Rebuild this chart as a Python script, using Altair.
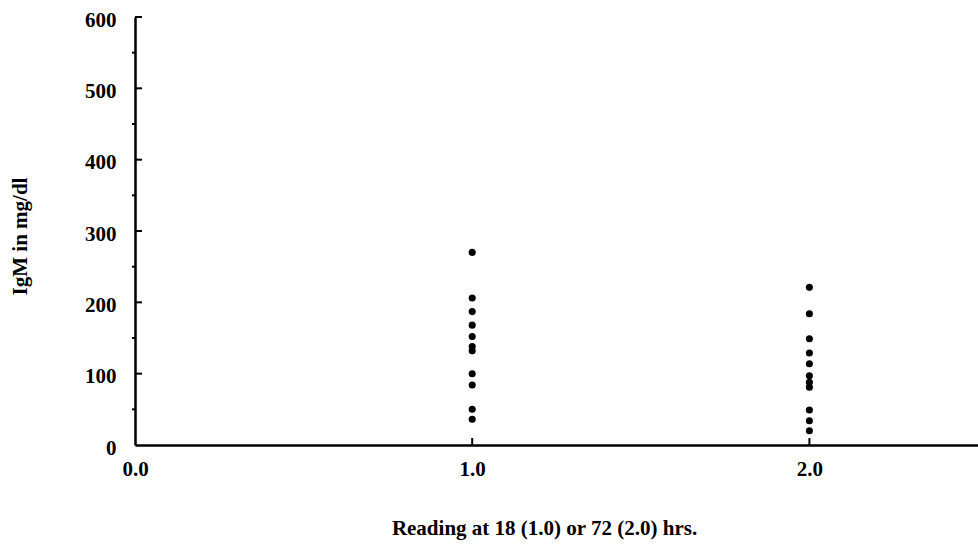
import altair as alt
import pandas as pd

# IgM readings (mg/dl) at the two time points
reading_1 = [270, 206, 187, 168, 152, 138, 132, 100, 84, 50, 36]
reading_2 = [221, 184, 149, 129, 114, 97, 88, 81, 49, 34, 20]

y_major = [100, 200, 300, 400, 500, 600]
y_minor = [50, 150, 250, 350, 450, 550]
x_major = [1.0, 2.0]

points = pd.DataFrame(
    {"t": [1.0] * len(reading_1) + [2.0] * len(reading_2),
     "igm": reading_1 + reading_2}
)

FONT = "Liberation Serif"
xs = alt.Scale(domain=[0, 2.5], nice=False)
ys = alt.Scale(domain=[0, 600], nice=False)

x_axis = alt.Axis(values=[0.0, 1.0, 2.0], format=".1f", ticks=False,
                  grid=False, domainWidth=2.5, domainColor="black",
                  labelFont=FONT, labelFontSize=21, labelFontWeight="bold",
                  labelColor="black", labelPadding=13, labelFlush=False,
                  title="Reading at 18 (1.0) or 72 (2.0) hrs.",
                  titleFont=FONT, titleFontSize=21, titleFontWeight="bold",
                  titleColor="black", titleX=409, titleY=83,
                  titleAlign="center", titleBaseline="middle")
y_axis = alt.Axis(values=[0, 100, 200, 300, 400, 500, 600], ticks=False,
                  grid=False, domainWidth=2.5, domainColor="black",
                  labelFont=FONT, labelFontSize=21, labelFontWeight="bold",
                  labelColor="black", labelPadding=19, labelFlush=False,
                  labelOffset=3,
                  title="IgM in mg/dl",
                  titleFont=FONT, titleFontSize=21, titleFontWeight="bold",
                  titleColor="black", titleX=-115, titleY=219,
                  titleAngle=-90, titleAlign="center", titleBaseline="middle")

dots = alt.Chart(points).mark_circle(size=50, color="black", opacity=1).encode(
    x=alt.X("t:Q", scale=xs, axis=x_axis),
    y=alt.Y("igm:Q", scale=ys, axis=y_axis),
)

# inward major ticks on the y axis
ymaj = alt.Chart(pd.DataFrame({"v": y_major})).mark_rule(color="black", strokeWidth=2).encode(
    y=alt.Y("v:Q", scale=ys, axis=y_axis), x=alt.value(0), x2=alt.value(7)
)
# small outward minor ticks on the y axis
ymin = alt.Chart(pd.DataFrame({"v": y_minor})).mark_rule(color="black", strokeWidth=2).encode(
    y=alt.Y("v:Q", scale=ys, axis=y_axis), x=alt.value(-3), x2=alt.value(0)
)
# inward ticks on the x axis
xmaj = alt.Chart(pd.DataFrame({"v": x_major})).mark_rule(color="black", strokeWidth=2).encode(
    x=alt.X("v:Q", scale=xs, axis=x_axis), y=alt.value(428), y2=alt.value(421)
)

chart = alt.layer(dots, ymaj, ymin, xmaj).properties(
    width=843, height=428,
    padding={"left": 135, "top": 17, "right": 0, "bottom": 100},
    autosize="none",
    background="white",
).configure_view(stroke="transparent", strokeWidth=0).configure_axis(grid=False)

chart.save("out.html", embed_options={"renderer": "svg", "actions": False})
